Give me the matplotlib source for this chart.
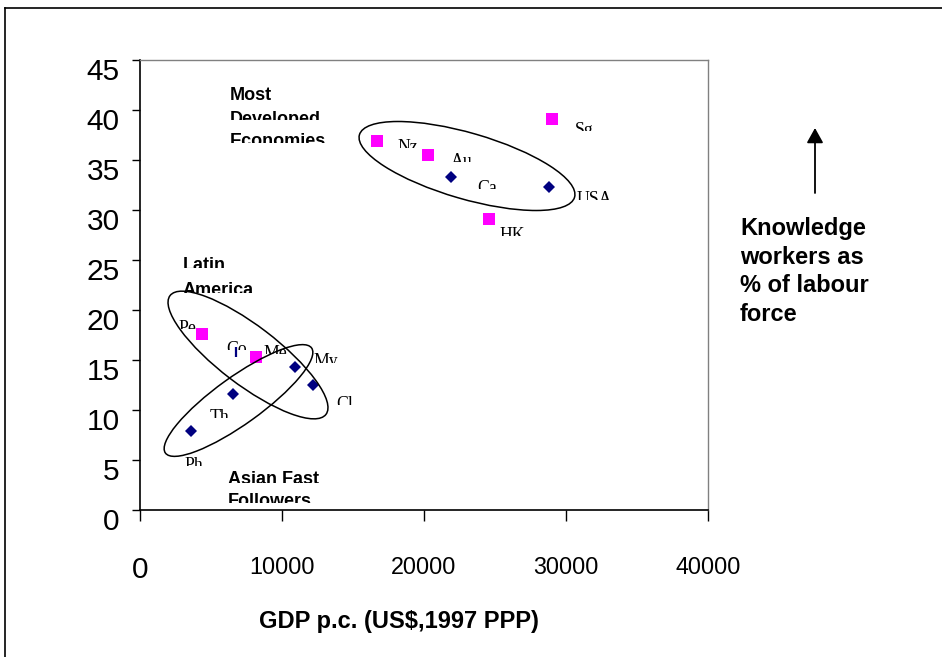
import matplotlib
matplotlib.use("Agg")
import matplotlib.pyplot as plt
from matplotlib.patches import Ellipse
from matplotlib.transforms import Bbox, IdentityTransform, ScaledTranslation
from matplotlib.lines import Line2D

# ---------------- data ----------------
sq_names = ["Sg", "Nz", "Au", "HK", "Pe", "Me"]
sq_x = [29000, 16700, 20250, 24600, 4400, 8200]
sq_y = [39.1, 36.9, 35.5, 29.1, 17.6, 15.3]

dia_names = ["Ca", "USA", "My", "Cl", "Th", "Ph"]
dia_x = [21900, 28800, 10950, 12200, 6550, 3600]
dia_y = [33.3, 32.3, 14.3, 12.5, 11.6, 7.9]

hid_names = ["Co"]
hid_x = [6750]
hid_y = [15.8]

x_ticks = [0, 10000, 20000, 30000, 40000]
y_ticks = [0, 5, 10, 15, 20, 25, 30, 35, 40, 45]

# label offsets (pixels: right, down) from the point to text baseline-left
label_off = {
    "Sg": (23, 15.6), "Nz": (20, 10.7), "Au": (23.5, 10.7), "HK": (10, 21),
    "Pe": (-24.4, -0.8), "Me": (7, 0.7), "Ca": (26.5, 15.9), "USA": (28, 16.5),
    "My": (18.3, -0.5), "Cl": (23, 23.8), "Th": (-23.7, 27.5), "Ph": (-6.5, 38.5),
    "Co": (-10, 1.9),
}

W, H = 942, 657
SANS = ["Liberation Sans", "DejaVu Sans"]
SERIF = ["Liberation Serif", "DejaVu Serif"]

fig = plt.figure(figsize=(W / 100, H / 100), dpi=100)
fig.patch.set_facecolor("white")

L, R, T, B = 140, 708, 60, 510
ax = fig.add_axes([L / W, (H - B) / H, (R - L) / W, (B - T) / H])
ax.set_xlim(0, 40000)
ax.set_ylim(0, 45)

# spines
for s in ["left", "bottom"]:
    ax.spines[s].set_color("black")
    ax.spines[s].set_linewidth(1.2)
for s in ["top", "right"]:
    ax.spines[s].set_color("#808080")
    ax.spines[s].set_linewidth(1.0)

ax.set_xticks(x_ticks, labels=[str(v) for v in x_ticks])
ax.set_yticks(y_ticks, labels=[str(v) for v in y_ticks])
ax.tick_params(axis="y", direction="out", length=6, width=1, pad=8.6,
               labelsize=21.5, labelfontfamily=SANS)
ax.tick_params(axis="x", direction="out", length=8, width=1, pad=25,
               labelsize=16.8, labelfontfamily=SANS)
ax.xaxis.get_major_ticks()[0].label1.set_fontsize(21.5)
for lbl in ax.get_yticklabels():
    lbl.set_transform(lbl.get_transform() + ScaledTranslation(0, -0.09, fig.dpi_scale_trans))

# markers
ax.plot(sq_x, sq_y, ls="none", marker="s", markersize=8.8, color="#FF00FF",
        markeredgewidth=0, zorder=3)
ax.plot(dia_x, dia_y, ls="none", marker="D", markersize=6.4, color="#000080",
        markeredgewidth=0, zorder=3)
ax.plot(hid_x, hid_y, ls="none", marker="|", markersize=7.5, color="#000080",
        markeredgewidth=1.6, zorder=3)

# clipped data labels (Times-like serif, top part only)
CUT = 3.8
def data_label(name, x, y):
    dx, dy = label_off[name]
    a = ax.annotate(name, (x, y), xytext=(dx, -dy), textcoords="offset pixels",
                    fontsize=12.8, family=SERIF, color="black",
                    ha="left", va="baseline", zorder=4)
    base = ax.transData.transform((x, y))[1] - dy
    a.set_clip_path(None)
    a.set_clip_box(Bbox.from_extents(0, base + CUT, W, H))
    a.set_clip_on(True)

for n, x, y in zip(sq_names, sq_x, sq_y):
    data_label(n, x, y)
for n, x, y in zip(dia_names, dia_x, dia_y):
    data_label(n, x, y)
for n, x, y in zip(hid_names, hid_x, hid_y):
    data_label(n, x, y)

# ellipses (pixel geometry, image coords y-down)
ellipses = [
    (467, 166, 112, 33, -16.2),
    (248, 355, 98, 29.5, -37.3),
    (238.5, 400.5, 90, 23.5, 35.7),
]
for cx, cy, a_, b_, ang in ellipses:
    e = Ellipse((cx, H - cy), 2 * a_, 2 * b_, angle=ang, transform=IdentityTransform(),
                fill=False, edgecolor="black", linewidth=1.1, zorder=2)
    fig.add_artist(e)

# group labels (bold sans, clipped lines)
def fig_line(txt, x, base, clip=None, size=13, bold=True):
    t = fig.text(x, H - base, txt, transform=IdentityTransform(), fontsize=size,
                 family=SANS, fontweight="bold" if bold else "normal",
                 ha="left", va="baseline", color="black")
    if clip is not None:
        t.set_clip_box(Bbox.from_extents(0, H - clip, W, H))
        t.set_clip_on(True)
    return t

fig_line("Most", 230, 99.6)
fig_line("Developed", 230, 123.9, clip=120)
fig_line("Economies", 230, 145.9, clip=143)
fig_line("Latin", 183, 270.2, clip=268)
fig_line("America", 183, 294.6, clip=293)
fig_line("Asian Fast", 228, 483.6, clip=482.7)
fig_line("Followers", 228, 506.2, clip=503.3)

# right-side text
for i, s in enumerate(["Knowledge", "workers as", "% of labour", "force"]):
    fig_line(s, 740, 235 + i * 28.7, size=17)

# arrow
ax.annotate("", xy=(815, H - 128), xycoords="figure pixels",
            xytext=(815, H - 193), textcoords="figure pixels",
            arrowprops=dict(arrowstyle="-|>,head_length=0.45,head_width=0.25",
                            mutation_scale=20, lw=1.3, color="black",
                            shrinkA=0, shrinkB=0))

# x-axis title
fig.text(399, H - 628, "GDP p.c. (US$,1997 PPP)", transform=IdentityTransform(),
         fontsize=17, family=SANS, fontweight="bold", ha="center", va="baseline")

# outer frame (left and top only visible)
fig.add_artist(Line2D([5, 5], [0, H - 8], transform=IdentityTransform(),
                      color="black", lw=1.2))
fig.add_artist(Line2D([5, W], [H - 8, H - 8], transform=IdentityTransform(),
                      color="black", lw=1.2))

fig.savefig("out.png", dpi=100, facecolor="white")
